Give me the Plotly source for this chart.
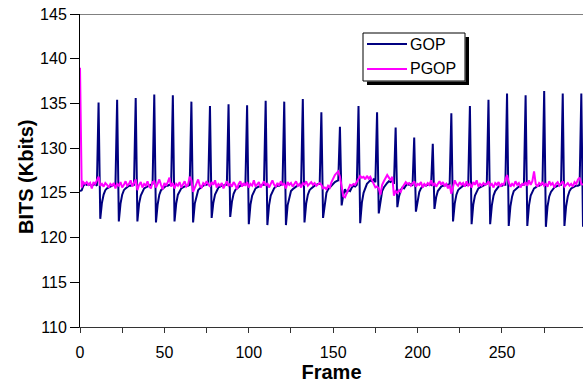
import plotly.graph_objects as go

# Frame-by-frame bit counts (Kbits)
gop_bits = [
    125.2, 125.3, 125.8, 126.0, 125.9, 126.0, 125.9, 125.8, 125.9, 126.0, 125.8,
    135.1, 122.1, 123.9, 124.8, 125.3, 125.5, 125.6, 125.7, 125.8, 125.9, 125.9,
    135.4, 121.8, 123.8, 124.8, 125.3, 125.5, 125.7, 125.8, 125.8, 125.9, 125.9,
    135.6, 121.8, 123.8, 124.7, 125.2, 125.5, 125.6, 125.7, 125.8, 125.9, 126.0,
    136.0, 121.7, 123.7, 124.8, 125.3, 125.5, 125.7, 125.8, 125.8, 125.9, 125.9,
    135.9, 121.8, 123.8, 124.8, 125.2, 125.5, 125.6, 125.7, 125.8, 125.8, 125.9,
    135.2, 121.7, 123.8, 124.7, 125.3, 125.5, 125.7, 125.8, 125.9, 125.9, 126.0,
    134.7, 122.2, 123.9, 124.8, 125.3, 125.6, 125.7, 125.8, 125.8, 125.9, 125.9,
    134.9, 122.3, 124.0, 124.9, 125.3, 125.5, 125.7, 125.8, 125.9, 125.9, 126.0,
    134.8, 121.5, 123.7, 124.7, 125.2, 125.5, 125.6, 125.7, 125.8, 125.9, 125.9,
    135.3, 121.4, 123.6, 124.7, 125.2, 125.5, 125.7, 125.8, 125.8, 125.9, 126.0,
    135.2, 121.4, 123.6, 124.6, 125.2, 125.4, 125.6, 125.7, 125.8, 125.9, 125.9,
    135.5, 121.7, 123.8, 124.8, 125.3, 125.5, 125.7, 125.8, 125.9, 126.0, 126.0,
    134.0, 122.2, 124.0, 125.0, 125.4, 125.6, 125.9, 126.1, 126.2, 126.3, 126.4,
    132.4, 123.6, 124.8, 125.4, 125.0, 125.3, 125.2, 125.6, 125.8, 125.7, 125.9,
    134.7, 121.6, 123.9, 125.0, 125.6, 126.0, 126.2, 126.4, 126.3, 126.5, 126.2,
    134.0, 122.7, 124.3, 125.2, 125.6, 125.9, 126.1, 126.3, 126.2, 126.4, 126.0,
    132.3, 123.4, 124.6, 125.3, 125.6, 125.5, 125.8, 126.0, 125.9, 126.0, 125.8,
    131.2, 122.9, 124.3, 125.1, 125.5, 125.7, 125.9, 125.8, 125.9, 126.0, 125.9,
    130.5, 123.2, 124.5, 125.2, 125.5, 125.7, 125.8, 125.8, 125.9, 125.9, 126.0,
    133.9, 121.8, 123.8, 124.8, 125.3, 125.5, 125.7, 125.8, 125.8, 125.9, 125.9,
    134.7, 121.5, 123.7, 124.7, 125.2, 125.5, 125.6, 125.7, 125.8, 125.9, 126.0,
    135.4, 121.5, 123.6, 124.7, 125.2, 125.5, 125.7, 125.8, 125.8, 125.9, 125.9,
    136.1, 121.3, 123.5, 124.6, 125.2, 125.4, 125.6, 125.7, 125.8, 125.9, 125.9,
    135.9, 121.3, 123.6, 124.7, 125.2, 125.5, 125.6, 125.8, 125.8, 125.9, 126.0,
    136.4, 121.2, 123.5, 124.6, 125.1, 125.4, 125.6, 125.7, 125.8, 125.9, 125.9,
    136.1, 121.3, 123.5, 124.6, 125.2, 125.5, 125.6, 125.7, 125.8, 125.8, 125.9,
    136.1, 121.2,
]

pgop_bits = [
    139.0, 125.6, 126.2, 126.0, 126.2, 125.9, 126.1, 125.5, 126.2, 126.0, 126.4,
    126.8, 125.8, 126.0, 125.7, 126.1, 125.9, 125.6, 126.0, 125.8, 126.1, 125.5,
    126.0, 125.8, 126.2, 125.6, 125.9, 126.3, 125.8, 126.0, 126.4, 125.7, 126.1,
    126.5, 125.3, 125.9, 126.2, 125.6, 126.0, 125.8, 126.3, 125.7, 125.5, 126.2,
    126.3, 125.6, 126.0, 126.5, 125.9, 125.4, 126.1, 125.8, 126.2, 126.7, 125.7,
    126.1, 125.5, 126.0, 125.8, 126.2, 125.6, 126.0, 126.3, 125.7, 125.9, 126.8,
    126.4, 125.1, 125.6, 126.0, 126.5, 125.8, 125.6, 126.1, 125.9, 126.3, 126.0,
    125.7, 126.2, 125.9, 126.4, 125.6, 126.0, 125.8, 126.1, 125.5, 125.9, 126.3,
    125.8, 126.0, 125.7, 126.2, 125.9, 125.4, 126.0, 126.3, 125.7, 126.1, 125.8,
    126.2, 125.6, 126.0, 125.8, 126.4, 125.7, 125.9, 126.2, 125.6, 126.0, 126.3,
    125.8, 126.1, 125.6, 126.0, 126.4, 125.9, 125.7, 126.1, 125.8, 126.3, 125.9,
    126.0, 125.5, 126.2, 125.9, 126.1, 125.7, 126.0, 126.3, 125.8, 126.0, 125.6,
    126.1, 125.9, 126.3, 125.8, 126.0, 126.2, 125.9, 126.1, 125.8, 126.0, 126.1,
    125.9, 125.5, 125.6, 125.4, 125.8, 125.6, 126.2, 126.6, 127.0, 127.2, 127.4,
    126.8, 125.6, 124.6, 124.5, 125.0, 125.6, 125.9, 125.8, 126.0, 125.9, 126.2,
    126.6, 126.9, 126.7, 126.8, 126.5, 126.9, 126.6, 126.8, 126.4, 125.9, 125.6,
    125.7, 125.5, 124.8, 125.9, 126.3, 126.6, 127.0, 126.7, 126.4, 126.8, 124.7,
    125.2, 125.0, 125.3, 125.1, 125.6, 125.9, 126.2, 126.0, 126.1, 125.8, 126.0,
    126.3, 125.7, 126.0, 125.9, 126.2, 125.6, 126.0, 125.8, 126.1, 125.9, 126.4,
    125.8, 126.1, 125.7, 126.0, 126.3, 125.9, 126.2, 125.8, 126.0, 125.5, 125.9,
    124.9, 125.7, 126.4, 126.0, 125.8, 126.2, 125.9, 126.1, 125.7, 126.3, 125.8,
    126.0, 125.6, 126.2, 125.9, 126.4, 125.7, 126.0, 125.8, 126.1, 125.9, 126.0,
    126.3, 125.8, 126.0, 125.6, 126.1, 125.9, 126.2, 125.7, 126.0, 125.9, 126.5,
    127.0, 126.2, 125.7, 126.0, 125.8, 126.3, 125.9, 126.1, 125.6, 126.0, 125.9,
    126.2, 125.8, 126.4, 125.9, 126.3, 127.4, 126.0, 125.7, 126.1, 125.9, 126.2,
    125.8, 126.0, 125.7, 126.3, 125.9, 126.1, 125.6, 126.0, 126.2, 125.8, 126.0,
    126.3, 125.7, 125.9, 126.1, 125.8, 126.0, 125.7, 126.2, 126.0, 126.5, 126.7,
    126.0, 125.9,
]

series_names = ["GOP", "PGOP"]
series_colors = ["#000080", "#FF00FF"]

frames = list(range(len(gop_bits)))

FONT = "Arial, 'Liberation Sans', sans-serif"

# plot-area geometry in pixels (for the hand-drawn legend box)
L, R, T, B = 80, 583, 14, 327
W, H = R - L, B - T


def px(x):
    return (x - L) / W


def py(y):
    return (B - y) / H


fig = go.Figure()
for name, color, vals in zip(series_names, series_colors, [gop_bits, pgop_bits]):
    fig.add_trace(go.Scatter(x=frames, y=vals, mode="lines", name=name,
                             line=dict(color=color, width=2), showlegend=False))

shapes = []
# top border line at 145
shapes.append(dict(type="line", xref="paper", yref="y", x0=0, x1=1, y0=145, y1=145,
                   line=dict(color="#808080", width=2), layer="below"))
# legend box
shapes.append(dict(type="rect", xref="paper", yref="paper",
                   x0=px(363), x1=px(465), y0=py(81), y1=py(33),
                   fillcolor="white", line=dict(color="black", width=1), layer="above"))
# legend drop shadow: right band and bottom band
shapes.append(dict(type="rect", xref="paper", yref="paper",
                   x0=px(465.5), x1=px(469), y0=py(85), y1=py(37),
                   fillcolor="black", line=dict(width=0), layer="above"))
shapes.append(dict(type="rect", xref="paper", yref="paper",
                   x0=px(367), x1=px(469), y0=py(85), y1=py(81.5),
                   fillcolor="black", line=dict(width=0), layer="above"))
annotations = []
for i, (name, color) in enumerate(zip(series_names, series_colors)):
    yy = 44 + i * 25
    shapes.append(dict(type="line", xref="paper", yref="paper",
                       x0=px(367), x1=px(407), y0=py(yy), y1=py(yy),
                       line=dict(color=color, width=2), layer="above"))
    annotations.append(dict(x=px(408), y=py(yy), xref="paper", yref="paper",
                            text=name, showarrow=False, xanchor="left", yanchor="middle",
                            font=dict(family=FONT, size=16, color="black")))

# y-axis title, placed as in the reference (slightly below the plot centre)
annotations.append(dict(x=px(26), y=py(177), xref="paper", yref="paper",
                        text="<b>BITS (Kbits)</b>", textangle=-90, showarrow=False,
                        xanchor="center", yanchor="middle",
                        font=dict(family=FONT, size=20, color="black")))

fig.update_layout(
    width=583, height=383,
    margin=dict(l=L, r=583 - R, t=T, b=383 - B),
    paper_bgcolor="white", plot_bgcolor="white",
    font=dict(family=FONT, size=16, color="black"),
    showlegend=False,
    shapes=shapes,
    annotations=annotations,
    xaxis=dict(range=[0, 298], dtick=50, tick0=0, showgrid=False, zeroline=False,
               showline=True, linecolor="#333333", linewidth=1,
               ticks="outside", ticklen=5, tickcolor="#333333",
               minor=dict(dtick=25, ticks="outside", ticklen=5, tickcolor="#333333", showgrid=False),
               tickfont=dict(family=FONT, size=16, color="black"),
               ticklabelstandoff=6,
               title=dict(text="<b>Frame</b>", font=dict(family=FONT, size=20, color="black"), standoff=0)),
    yaxis=dict(range=[110, 145], dtick=5, showgrid=False, zeroline=False,
               showline=True, linecolor="black", linewidth=1,
               ticks="outside", ticklen=9, tickcolor="black",
               tickfont=dict(family=FONT, size=16, color="black")),
)

fig.write_html("out.html")
